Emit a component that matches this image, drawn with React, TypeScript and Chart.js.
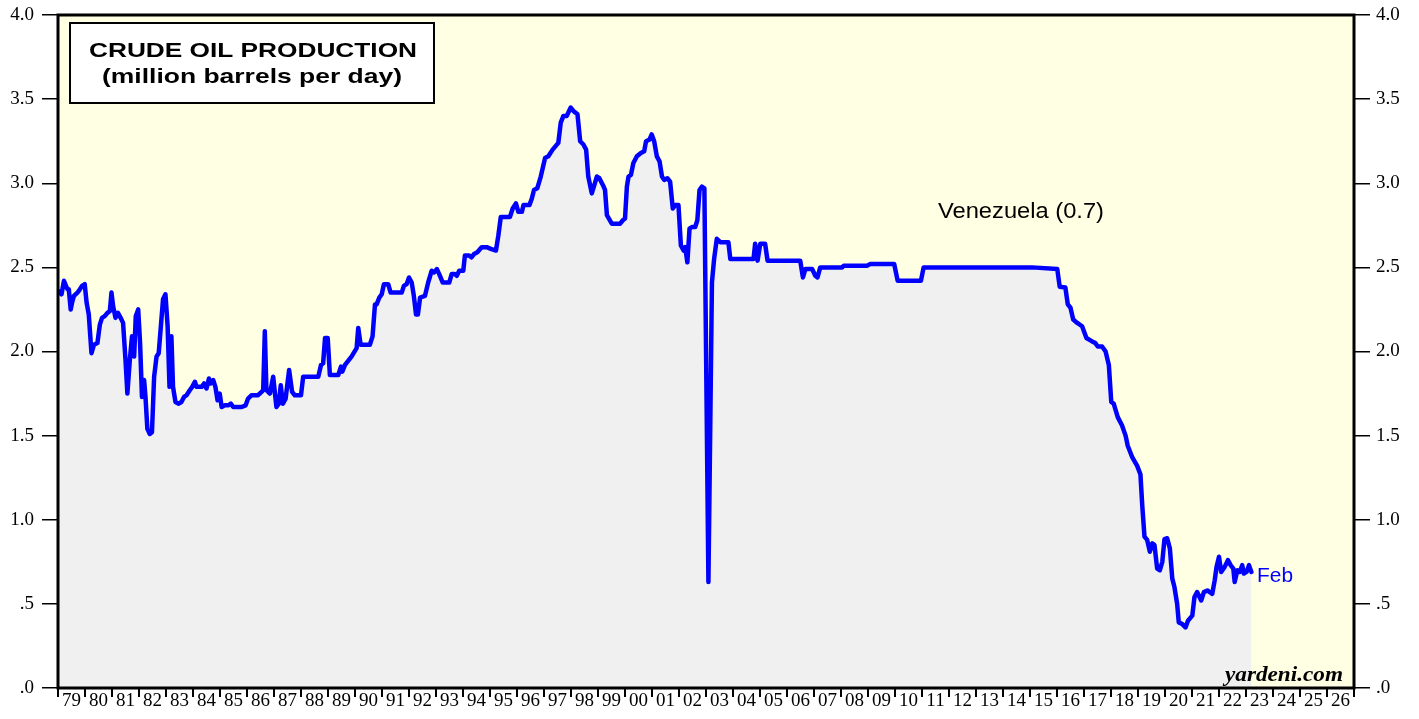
import React, { useEffect, useRef } from 'react';
import { Chart, registerables } from 'chart.js';

Chart.register(...registerables);

const yearLabels = ['79','80','81','82','83','84','85','86','87','88','89','90','91','92','93','94','95','96','97','98','99','00','01','02','03','04','05','06','07','08','09','10','11','12','13','14','15','16','17','18','19','20','21','22','23','24','25','26'];

const axisMin = 0;
const axisMax = 4;
const axisStep = 0.5;
const xStart = 1979;
const xEnd = 2027;

// Dates as decimal years, values in million barrels per day
const dates = [
  1979.00,1979.13,1979.22,1979.35,1979.40,1979.47,1979.52,1979.59,1979.72,1979.77,1979.89,1979.99,
  1980.06,1980.14,1980.24,1980.33,1980.46,1980.55,1980.63,1980.73,1980.83,1980.92,1980.98,
  1981.04,1981.13,1981.22,1981.32,1981.41,1981.50,1981.57,1981.66,1981.74,1981.82,1981.88,1981.97,
  1982.04,1982.11,1982.19,1982.24,1982.31,1982.40,1982.48,1982.56,1982.65,1982.73,1982.81,1982.89,1982.98,
  1983.06,1983.13,1983.20,1983.26,1983.35,1983.47,1983.57,1983.67,1983.76,1983.88,1983.97,
  1984.07,1984.13,1984.32,1984.41,1984.50,1984.59,1984.66,1984.75,1984.83,1984.91,1984.99,
  1985.06,1985.18,1985.30,1985.40,1985.49,1985.80,1985.95,
  1986.04,1986.17,1986.41,1986.54,1986.60,1986.66,1986.72,1986.85,1986.97,
  1987.09,1987.18,1987.25,1987.33,1987.43,1987.56,1987.67,1987.77,
  1988.00,1988.08,1988.64,1988.74,1988.82,1988.89,1988.99,
  1989.07,1989.38,1989.48,1989.53,1989.63,1989.87,
  1990.06,1990.12,1990.21,1990.55,1990.65,1990.74,1990.80,1990.90,1990.99,
  1991.07,1991.23,1991.32,1991.73,1991.81,1991.91,
  1992.00,1992.10,1992.18,1992.26,1992.33,1992.41,1992.59,1992.71,1992.84,1992.93,
  1993.03,1993.12,1993.25,1993.49,1993.58,1993.70,1993.77,1993.86,
  1994.01,1994.07,1994.23,1994.32,1994.41,1994.53,1994.69,1994.88,
  1995.03,1995.22,1995.31,1995.40,1995.74,1995.84,1995.96,
  1996.05,1996.18,1996.24,1996.46,1996.55,1996.63,1996.75,1996.88,
  1997.04,1997.16,1997.32,1997.53,1997.62,1997.72,1997.84,1997.99,
  1998.09,1998.24,1998.34,1998.46,1998.56,1998.64,1998.77,1998.96,
  1999.05,1999.18,1999.26,1999.33,1999.51,1999.82,1999.92,
  2000.00,2000.07,2000.13,2000.22,2000.31,2000.44,2000.59,2000.71,2000.78,2000.91,2000.99,
  2001.08,2001.18,2001.28,2001.37,2001.45,2001.57,2001.67,2001.77,2001.86,2001.98,
  2002.07,2002.17,2002.23,2002.31,2002.39,2002.48,2002.60,2002.68,2002.76,2002.85,2002.94,
  2003.09,2003.22,2003.30,2003.40,2003.53,2003.83,2003.90,
  2004.76,2004.82,2004.91,2005.01,2005.19,2005.28,
  2006.49,2006.59,2006.68,2006.93,2007.05,2007.13,2007.23,
  2008.04,2008.10,2008.96,2009.09,2009.97,2010.10,2010.96,2011.06,
  2014.99,2015.08,2016.01,2016.10,2016.31,2016.40,2016.50,2016.60,2016.75,2016.93,
  2017.09,2017.30,2017.42,2017.51,2017.67,2017.80,2017.92,
  2018.01,2018.10,2018.25,2018.41,2018.54,2018.62,2018.79,2018.97,
  2019.09,2019.16,2019.24,2019.34,2019.44,2019.53,2019.61,2019.71,2019.81,2019.90,2019.98,
  2020.08,2020.18,2020.27,2020.35,2020.45,2020.51,2020.64,2020.76,2020.85,
  2021.01,2021.09,2021.19,2021.34,2021.44,2021.57,2021.75,2021.84,2021.91,
  2022.00,2022.08,2022.21,2022.33,2022.43,2022.53,2022.58,2022.68,2022.77,2022.86,2022.92,
  2023.02,2023.11,2023.20
];

const production = [
  2.36,2.34,2.42,2.37,2.37,2.25,2.29,2.33,2.35,2.36,2.39,2.40,
  2.29,2.22,1.99,2.04,2.05,2.16,2.20,2.21,2.23,2.24,2.35,
  2.27,2.20,2.23,2.20,2.17,1.95,1.75,1.95,2.09,1.97,2.21,2.25,
  2.05,1.73,1.83,1.73,1.54,1.51,1.52,1.85,1.97,1.99,2.15,2.31,2.34,
  2.15,1.79,2.09,1.79,1.70,1.69,1.70,1.73,1.74,1.77,1.79,
  1.82,1.79,1.79,1.81,1.78,1.84,1.81,1.83,1.79,1.71,1.75,
  1.67,1.68,1.68,1.69,1.67,1.67,1.68,
  1.72,1.74,1.74,1.76,1.77,2.12,1.77,1.75,1.85,
  1.67,1.69,1.80,1.69,1.72,1.89,1.76,1.74,
  1.74,1.85,1.85,1.92,1.93,2.08,2.08,
  1.86,1.86,1.91,1.88,1.92,1.97,
  2.02,2.14,2.04,2.04,2.09,2.28,2.28,2.32,2.34,
  2.40,2.40,2.35,2.35,2.39,2.40,
  2.44,2.41,2.33,2.22,2.22,2.32,2.33,2.41,2.48,2.47,
  2.49,2.46,2.41,2.41,2.46,2.46,2.45,2.48,
  2.48,2.57,2.57,2.56,2.58,2.59,2.62,2.62,
  2.61,2.60,2.69,2.80,2.80,2.85,2.88,
  2.83,2.83,2.87,2.87,2.91,2.96,2.97,3.04,
  3.15,3.16,3.20,3.24,3.36,3.40,3.40,3.45,
  3.43,3.41,3.25,3.23,3.20,3.04,2.94,3.04,
  3.03,2.99,2.96,2.81,2.76,2.76,2.78,
  2.79,2.98,3.04,3.05,3.12,3.16,3.18,3.19,3.25,3.26,3.29,
  3.25,3.16,3.13,3.04,3.02,3.03,3.01,2.85,2.87,2.87,
  2.63,2.60,2.62,2.53,2.73,2.74,2.74,2.78,2.96,2.98,2.97,
  0.63,2.41,2.55,2.67,2.65,2.65,2.55,
  2.55,2.64,2.54,2.64,2.64,2.54,
  2.54,2.44,2.49,2.49,2.45,2.44,2.50,
  2.50,2.51,2.51,2.52,2.52,2.42,2.42,2.50,
  2.50,2.50,2.49,2.385,2.38,2.28,2.26,2.19,2.17,2.15,
  2.08,2.06,2.05,2.03,2.03,2.00,1.92,
  1.70,1.69,1.61,1.56,1.50,1.44,1.37,1.32,
  1.27,1.08,0.90,0.88,0.81,0.86,0.85,0.71,0.70,0.75,0.885,
  0.89,0.83,0.65,0.60,0.50,0.39,0.38,0.36,0.40,
  0.43,0.54,0.57,0.52,0.57,0.58,0.56,0.64,0.72,
  0.78,0.69,0.72,0.76,0.73,0.71,0.63,0.70,0.69,0.73,0.68,
  0.69,0.73,0.69
];

const seriesName = 'Venezuela (0.7)';
const lastLabel = 'Feb';
const titleLine1 = 'CRUDE OIL PRODUCTION';
const titleLine2 = '(million barrels per day)';
const sourceLabel = 'yardeni.com';

const SERIF = '"Liberation Serif", "Times New Roman", serif';
const SANS = '"Liberation Sans", Arial, Helvetica, sans-serif';

function fmtTick(v: number): string {
  if (v === 0) return '.0';
  if (v < 1) return '.' + String(Math.round(v * 10));
  return v.toFixed(1);
}

function drawFitted(ctx: CanvasRenderingContext2D, text: string, x: number, baseline: number, font: string, color: string, width: number, align: 'center' | 'left') {
  ctx.save();
  ctx.font = font;
  const w = ctx.measureText(text).width;
  const sx = width / w;
  ctx.translate(x, baseline);
  ctx.scale(sx, 1);
  ctx.fillStyle = color;
  ctx.textAlign = align;
  ctx.textBaseline = 'alphabetic';
  ctx.fillText(text, 0, 0);
  ctx.restore();
}

const decorPlugin = {
  id: 'decor',
  beforeDatasetsDraw(chart: any) {
    const { ctx, chartArea } = chart;
    ctx.save();
    ctx.fillStyle = '#FFFFE3';
    ctx.fillRect(chartArea.left, chartArea.top, chartArea.right - chartArea.left, chartArea.bottom - chartArea.top);
    ctx.restore();
  },
  afterDatasetsDraw(chart: any) {
    const { ctx, chartArea } = chart;
    const { left, right, top, bottom } = chartArea;
    ctx.save();
    ctx.strokeStyle = '#000';
    ctx.lineWidth = 3;
    ctx.strokeRect(left, top, right - left, bottom - top);
    // title box
    ctx.fillStyle = '#fff';
    ctx.fillRect(70, 23, 364, 80);
    ctx.lineWidth = 2;
    ctx.strokeRect(70, 23, 364, 80);
    ctx.restore();
    drawFitted(ctx, titleLine1, 253, 57, 'bold 21px ' + SANS, '#000', 328, 'center');
    drawFitted(ctx, titleLine2, 252, 83, 'bold 21px ' + SANS, '#000', 300, 'center');
    drawFitted(ctx, seriesName, 1021, 218, '22px ' + SANS, '#000', 166, 'center');
    drawFitted(ctx, lastLabel, 1257, 582, '21px ' + SANS, '#0000FF', 36, 'left');
    drawFitted(ctx, sourceLabel, 1225, 681, 'italic bold 21px ' + SERIF, '#000', 118, 'left');
  }
};

export default function App() {
  const ref = useRef<HTMLCanvasElement | null>(null);
  useEffect(() => {
    document.body.style.margin = '0';
    const canvas = ref.current;
    if (!canvas) return;
    const yTickCfg = {
      stepSize: axisStep,
      callback: (v: any) => fmtTick(Number(v)),
      font: { family: SERIF, size: 19 },
      color: '#000',
    };
    const fixVert = (w: number) => (s: any) => {
      s.width = w;
      s.paddingTop = 0;
      s.paddingBottom = 0;
    };
    const chart = new Chart(canvas, {
      type: 'line',
      data: {
        datasets: [
          {
            label: seriesName,
            data: dates.map((d, i) => ({ x: d, y: production[i] })),
            xAxisID: 'x',
            yAxisID: 'y',
            borderColor: '#0000FF',
            borderWidth: 4.5,
            backgroundColor: '#F0F0F0',
            fill: 'origin',
            pointRadius: 0,
            tension: 0,
            borderJoinStyle: 'round',
            borderCapStyle: 'round',
          } as any,
        ],
      },
      options: {
        animation: false,
        responsive: false,
        devicePixelRatio: 1,
        layout: { padding: { top: 15, left: 0, right: 0, bottom: 0 } },
        plugins: { legend: { display: false }, tooltip: { enabled: false } },
        scales: {
          x: { type: 'linear', display: false, min: xStart, max: xEnd },
          xLab: {
            type: 'category',
            position: 'bottom',
            labels: yearLabels,
            offset: true,
            grid: { offset: true, drawOnChartArea: false, tickLength: 9, color: '#000', lineWidth: 2 },
            border: { display: false },
            ticks: { font: { family: SERIF, size: 19 }, color: '#000', padding: -7, maxRotation: 0, minRotation: 0, autoSkip: false },
            afterFit: (s: any) => { s.height = 31; s.paddingLeft = 0; s.paddingRight = 0; },
          } as any,
          y: {
            type: 'linear',
            position: 'left',
            min: axisMin,
            max: axisMax,
            ticks: { ...yTickCfg, padding: 8 },
            grid: { drawOnChartArea: false, tickLength: 16, color: '#000', lineWidth: 1.5 },
            border: { display: false },
            afterFit: fixVert(58),
          } as any,
          y2: {
            type: 'linear',
            position: 'right',
            min: axisMin,
            max: axisMax,
            ticks: { ...yTickCfg, padding: 6 },
            grid: { drawOnChartArea: false, tickLength: 16, color: '#000', lineWidth: 1.5 },
            border: { display: false },
            afterFit: fixVert(65),
          } as any,
        },
      },
      plugins: [decorPlugin],
    });
    return () => chart.destroy();
  }, []);
  return (
    <div style={{ position: 'fixed', left: 0, top: 0, width: 1419, height: 719, background: '#fff' }}>
      <canvas ref={ref} width={1419} height={719} style={{ width: 1419, height: 719, display: 'block' }} />
    </div>
  );
}
